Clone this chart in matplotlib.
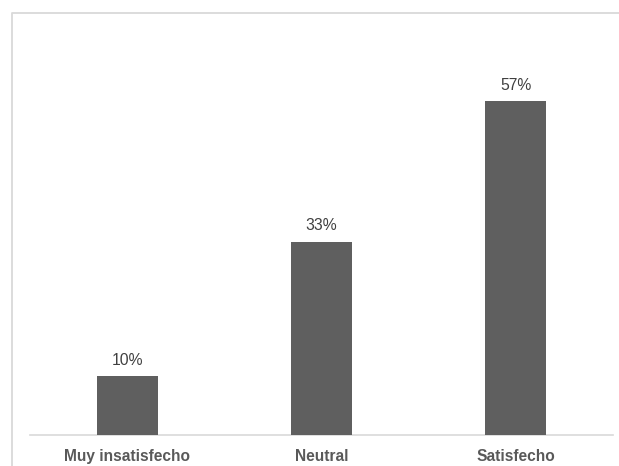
import matplotlib
matplotlib.use("Agg")
import matplotlib.pyplot as plt
from matplotlib.lines import Line2D

categories = ["Muy insatisfecho", "Neutral", "Satisfecho"]
values = [10, 33, 57]
value_labels = ["10%", "33%", "57%"]

W, H = 619, 466
fig = plt.figure(figsize=(W / 100, H / 100), dpi=100)
fig.patch.set_facecolor("white")

# Plot area in pixel terms
left, right, bottom, top = 30, 613, 435, 25
ax = fig.add_axes([left / W, (H - bottom) / H, (right - left) / W, (bottom - top) / H])

x = range(len(categories))
ax.bar(x, values, width=0.315, color="#5f5f5f", zorder=3)

for xi, v, lab in zip(x, values, value_labels):
    ax.annotate(lab, (xi, v), xytext=(0, 6), textcoords="offset points",
                ha="center", va="bottom", fontsize=11.3,
                family="Liberation Sans", color="#404040")

ax.set_xlim(-0.5, len(categories) - 0.5)
ax.set_ylim(0, 70)
ax.set_yticks([])
ax.set_xticks(list(x))
ax.set_xticklabels(categories, fontsize=11.2, fontweight="bold",
                   family="Liberation Sans", color="#595959")
ax.tick_params(axis="x", length=0, pad=10)

for side in ["top", "right", "left"]:
    ax.spines[side].set_visible(False)
ax.spines["bottom"].set_color("#d9d9d9")
ax.spines["bottom"].set_linewidth(1.2)

# Light frame along the top and left of the chart
fx = 11.5 / W
fy = 1 - 12.5 / H
fig.add_artist(Line2D([fx, fx, 1.0], [0.0, fy, fy], transform=fig.transFigure,
                      color="#d9d9d9", linewidth=1.3))

fig.savefig("out.png", dpi=100, facecolor="white")
